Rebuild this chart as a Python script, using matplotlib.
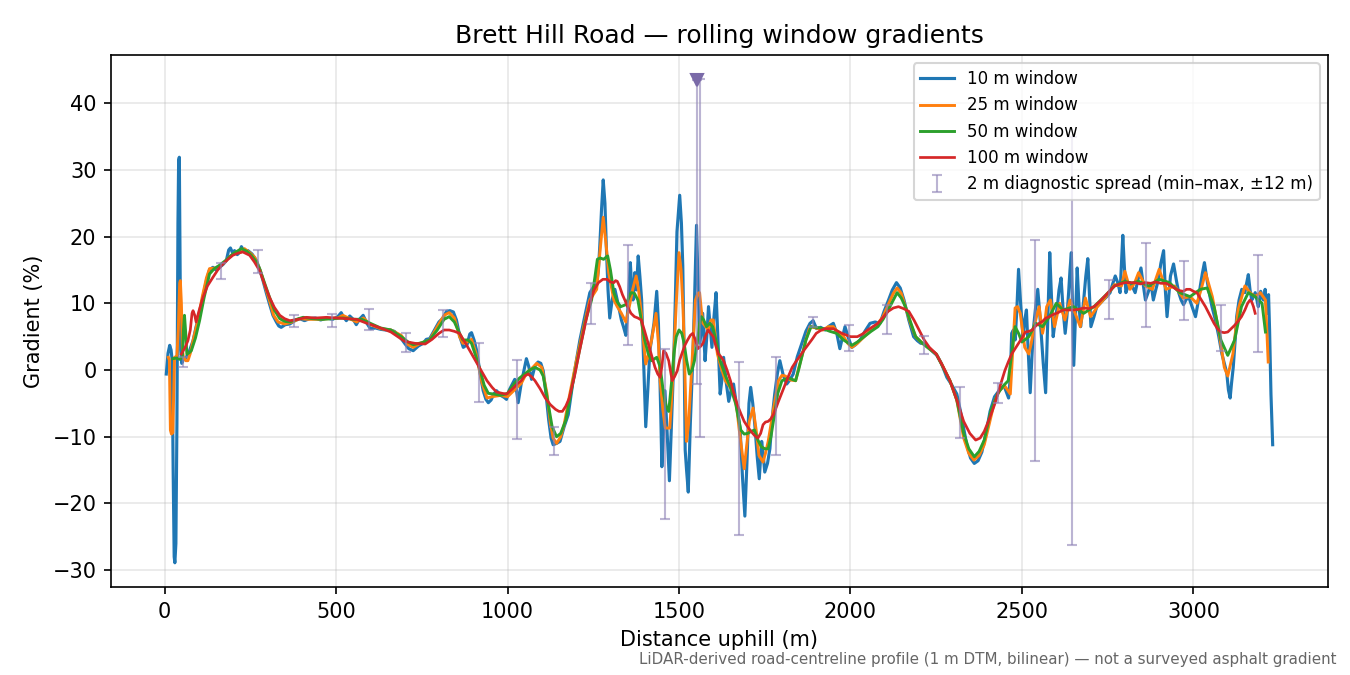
import numpy as np
import matplotlib
matplotlib.use("Agg")
import matplotlib.pyplot as plt

# 10 m window
x10 = [5, 10, 15, 19, 22, 25, 28, 30, 33, 36, 39, 41, 43, 45, 47, 50, 55, 63, 72, 83, 92, 102, 112, 122, 131, 141, 150, 160, 170, 180, 187, 192, 198, 204, 212, 218, 224, 232, 243, 255, 268, 278, 287, 297, 306, 316, 326, 333, 340, 352, 365, 380, 394, 408, 423, 440, 455, 472, 490, 505, 515, 521, 530, 540, 550, 559, 568, 579, 590, 600, 615, 630, 645, 657, 670, 686, 700, 712, 725, 740, 754, 763, 773, 785, 800, 812, 822, 832, 842, 851, 861, 871, 882, 890, 895, 903, 910, 920, 929, 937, 944, 952, 960, 968, 980, 990, 997, 1005, 1015, 1021, 1026, 1031, 1040, 1050, 1055, 1062, 1070, 1080, 1089, 1097, 1104, 1112, 1120, 1127, 1133, 1143, 1153, 1165, 1177, 1190, 1200, 1211, 1225, 1240, 1250, 1259, 1265, 1269, 1274, 1279, 1284, 1288, 1293, 1298, 1305, 1313, 1322, 1332, 1338, 1345, 1352, 1358, 1362, 1366, 1371, 1376, 1381, 1386, 1391, 1397, 1403, 1409, 1415, 1421, 1427, 1435, 1440, 1443, 1447, 1450, 1455, 1459, 1465, 1472, 1478, 1484, 1489, 1494, 1502, 1507, 1511, 1515, 1518, 1522, 1527, 1533, 1540, 1545, 1551, 1556, 1561, 1569, 1576, 1581, 1586, 1591, 1596, 1602, 1608, 1614, 1620, 1625, 1630, 1638, 1645, 1652, 1659, 1666, 1672, 1678, 1685, 1692, 1698, 1704, 1709, 1715, 1721, 1728, 1734, 1741, 1746, 1750, 1758, 1765, 1772, 1779, 1787, 1794, 1804, 1814, 1823, 1833, 1845, 1858, 1870, 1882, 1891, 1901, 1913, 1926, 1938, 1950, 1960, 1969, 1977, 1984, 1994, 2004, 2015, 2028, 2042, 2057, 2072, 2086, 2098, 2111, 2122, 2134, 2145, 2156, 2170, 2184, 2195, 2205, 2213, 2230, 2252, 2265, 2281, 2295, 2310, 2322, 2339, 2350, 2361, 2372, 2383, 2395, 2407, 2420, 2436, 2448, 2461, 2466, 2470, 2475, 2480, 2485, 2490, 2496, 2503, 2508, 2513, 2518, 2524, 2529, 2534, 2540, 2546, 2551, 2556, 2562, 2569, 2575, 2581, 2586, 2591, 2597, 2603, 2608, 2614, 2620, 2626, 2631, 2636, 2640, 2644, 2648, 2651, 2656, 2661, 2666, 2671, 2676, 2680, 2686, 2692, 2697, 2701, 2710, 2718, 2728, 2737, 2747, 2757, 2765, 2772, 2780, 2786, 2790, 2794, 2798, 2803, 2809, 2815, 2822, 2830, 2838, 2847, 2853, 2860, 2867, 2874, 2879, 2883, 2890, 2898, 2905, 2913, 2918, 2923, 2928, 2933, 2942, 2950, 2957, 2964, 2971, 2978, 2986, 2996, 3006, 3013, 3020, 3026, 3032, 3038, 3044, 3054, 3064, 3074, 3083, 3090, 3097, 3102, 3107, 3111, 3116, 3121, 3126, 3133, 3141, 3150, 3155, 3160, 3165, 3170, 3175, 3180, 3185, 3189, 3193, 3196, 3200, 3204, 3207, 3209, 3212, 3214, 3217, 3219, 3222, 3226, 3231]
g10 = [-0.6, 2.5, 3.7, 3.0, 1.5, -15, -28.0, -28.9, -26, -8, 22, 31.4, 31.9, 18, 3, 1.0, 1.6, 1.9, 2.8, 4.4, 6.5, 8.4, 11.0, 13.4, 15.0, 15.4, 15.0, 15.4, 15.8, 16.4, 18.0, 18.3, 17.6, 17.9, 17.3, 17.6, 18.5, 17.8, 17.9, 17.4, 16.4, 15.0, 13.4, 11.5, 9.9, 8.2, 7.2, 6.6, 6.4, 6.8, 6.9, 7.4, 7.7, 7.4, 7.7, 7.8, 7.5, 7.8, 7.6, 8.0, 8.6, 8.0, 7.4, 8.1, 7.6, 6.8, 7.6, 8.2, 7.0, 6.2, 6.3, 6.1, 6.0, 6.0, 5.8, 5.0, 4.0, 3.2, 2.9, 3.6, 4.0, 4.6, 4.7, 5.8, 7.2, 7.8, 8.8, 8.9, 8.7, 7.5, 5.0, 3.4, 3.8, 5.4, 5.6, 4.4, 2.9, -0.5, -3.1, -4.4, -4.9, -4.5, -3.6, -3.1, -3.8, -4.1, -4.4, -3.0, -2.0, -1.4, -3.0, -4.9, -2.0, 0.5, 1.7, 0.5, -1.4, 0.6, 1.2, 1.0, -0.1, -3.5, -7.5, -10.2, -11.2, -11.0, -10.7, -8.5, -6.7, -2.0, 1.2, 4.5, 8.0, 11.6, 12.4, 12.6, 15, 18.6, 24, 28.5, 25, 18.6, 12, 7.8, 10.5, 12.1, 10.0, 7.5, 6.5, 5.2, 10, 16.1, 12.5, 10.5, 14.6, 12, 17.1, 14, 10.5, 1.0, -8.5, -3, 2.9, 5, 7.0, 11.8, 7, 1.4, -7, -14.5, -9, -3.1, -9, -16.6, -8, 0.4, 10, 20.7, 26.2, 22, 15.6, 2, -12.0, -15, -18.3, -8, 1.4, 10, 21.7, 12, 4.0, 8.5, 1.4, 5, 9.5, 6.5, 3.4, 8, 11.6, 4, -3.6, -1.5, 1.9, -2, -4.7, -3, -2.1, -4.7, -6.5, -8.7, -16, -21.9, -14, -5, -2.6, -5, -8.2, -13, -16.3, -10.7, -13, -15.3, -14, -11.8, -7, -3.6, -0.5, 1.4, -0.8, -2.1, -1.5, -0.6, 2.0, 4.0, 5.8, 7.0, 7.4, 6.2, 6.4, 6.0, 6.6, 7.0, 5.5, 3.2, 5.0, 6.5, 4.8, 3.4, 3.8, 4.5, 5.8, 7.0, 7.2, 7.0, 8.8, 10.5, 12.0, 13.1, 12.3, 10.5, 7.5, 5.0, 4.4, 4.0, 4.0, 3.2, 2.2, 1.0, -1.1, -2.2, -3.6, -6.5, -11.2, -13.2, -14.0, -13.6, -12.3, -9.5, -6.2, -4.0, -2.9, -2.4, -4.2, -1, 5.5, 6, 4.5, 9, 15.1, 10, 5.0, 7.5, 9.0, 3, -3.4, 2, 6.5, 9.5, 12.1, 9, 5.5, 1, -3.4, 7, 17.6, 11, 5.0, 7.5, 9.5, 12, 13.8, 9, 5.5, 8, 11.6, 15, 17.6, 8, 0.7, 8, 15.3, 10, 6.5, 8.5, 10.5, 14, 16.7, 11, 6.5, 8, 9.5, 10, 10.5, 11, 11.6, 13, 14.1, 13, 11.6, 16, 20.2, 16, 11.6, 12.5, 13.1, 12.5, 11.6, 13.5, 15.3, 13, 10.5, 11.5, 12.6, 12, 10.5, 12, 13.6, 16, 17.9, 12, 8.0, 11, 14.1, 15.9, 13.5, 11.6, 10.5, 9.8, 10.5, 11.0, 9.5, 8.0, 10, 12.6, 14.5, 16.1, 14, 12.1, 9.5, 7.5, 5, 2.4, 1.0, -0.4, -3, -4.2, -2, 0.4, 4, 8.0, 10.5, 12.1, 11.6, 13, 14.3, 12, 10.5, 11, 11.6, 10.5, 9.5, 10.5, 11.8, 11, 10.5, 11, 12.1, 10, 8.5, 10, 11.3, 6, -3.6, -11.2]

# 25 m window
x25 = [11, 14, 17, 20, 24, 27, 29, 33, 36, 40, 44, 46, 49, 52, 55, 62, 68, 75, 83, 95, 110, 122, 131, 150, 170, 190, 209, 220, 233, 248, 263, 280, 294, 306, 318, 331, 350, 372, 394, 420, 450, 480, 505, 520, 540, 560, 580, 600, 630, 660, 690, 710, 725, 745, 773, 795, 815, 830, 845, 860, 870, 882, 895, 908, 925, 940, 955, 980, 1000, 1020, 1040, 1055, 1070, 1085, 1100, 1115, 1125, 1133, 1143, 1155, 1165, 1180, 1200, 1220, 1240, 1260, 1270, 1279, 1287, 1295, 1310, 1320, 1332, 1345, 1355, 1365, 1375, 1382, 1390, 1397, 1403, 1412, 1420, 1433, 1440, 1445, 1453, 1460, 1473, 1479, 1484, 1492, 1500, 1506, 1512, 1517, 1522, 1528, 1535, 1542, 1548, 1555, 1560, 1565, 1570, 1578, 1585, 1593, 1600, 1606, 1612, 1622, 1635, 1648, 1660, 1668, 1675, 1683, 1690, 1698, 1705, 1716, 1725, 1733, 1745, 1752, 1760, 1775, 1790, 1800, 1810, 1825, 1840, 1850, 1860, 1870, 1882, 1900, 1920, 1935, 1950, 1965, 1980, 1992, 2004, 2020, 2040, 2060, 2080, 2095, 2110, 2125, 2136, 2148, 2160, 2175, 2190, 2210, 2230, 2250, 2270, 2290, 2310, 2330, 2345, 2360, 2375, 2390, 2405, 2420, 2435, 2450, 2466, 2473, 2480, 2487, 2495, 2508, 2520, 2527, 2535, 2550, 2560, 2566, 2572, 2583, 2595, 2610, 2625, 2640, 2655, 2670, 2685, 2700, 2720, 2745, 2770, 2790, 2800, 2815, 2828, 2840, 2860, 2880, 2900, 2920, 2945, 2970, 2990, 3010, 3022, 3035, 3055, 3075, 3090, 3100, 3115, 3130, 3150, 3165, 3180, 3195, 3210, 3218]
g25 = [1.9, 1.5, -9.0, -9.6, -9.4, -3, 1.9, 2.0, 2.2, 6, 13.0, 13.4, 10, 3, 1.9, 1.4, 1.4, 2.5, 4.4, 7.0, 11.0, 13.8, 15.2, 15.3, 15.9, 17.0, 17.7, 17.6, 18.2, 17.6, 16.9, 14.8, 12.4, 10.4, 8.2, 7.2, 6.9, 7.2, 7.7, 7.6, 7.6, 7.7, 7.8, 8.2, 7.7, 7.2, 7.8, 6.8, 6.2, 6.0, 5.2, 3.8, 3.4, 4.0, 4.5, 6.5, 8.2, 8.6, 7.8, 5.0, 4.0, 4.2, 4.6, 2.5, -1.8, -4.2, -4.0, -3.8, -4.0, -3.0, -2.0, -0.5, 0.2, 1.0, 0.4, -3.5, -8.0, -10.2, -11.0, -10.0, -8.2, -4.0, 1.2, 6.0, 10.5, 12.1, 18, 22.9, 19, 14.6, 10.5, 9.5, 8.5, 7.2, 9.5, 12.1, 14.1, 12, 8.5, 4, 0.9, 2.5, 4.5, 8.5, 4, -1.6, -6, -8.7, -8.7, -4, 1.4, 10, 17.6, 15, 9.0, 0, -10.7, -8, -1.6, 5, 10.5, 11.5, 11.6, 9, 7.0, 6.5, 6.0, 7.5, 7.5, 5, 2.4, 0.5, -1.6, -2.5, -3.6, -5.5, -8.7, -12, -14.8, -11, -7.7, -5.7, -9, -12.8, -13.8, -12.5, -10.7, -6, -1.6, -0.8, -0.9, -1.5, -1.6, 0.5, 2.4, 4.5, 6.5, 6.3, 6.0, 6.5, 6.5, 5.5, 5.0, 4.0, 3.4, 4.0, 5.0, 6.0, 7.0, 8.0, 9.8, 11.5, 12.3, 11.5, 9.5, 7.0, 5.0, 4.0, 3.2, 2.4, 0.5, -1.6, -4.5, -10.2, -12.5, -13.5, -12.8, -11.2, -8, -4.7, -3.0, -2.4, -3.6, 3, 9.3, 9.5, 8.5, 3.4, 2.4, 4, 6.5, 9.5, 5.5, 7, 9.5, 10.5, 6.5, 10.0, 7.5, 10.5, 8.5, 6.5, 10.8, 8.0, 9.5, 11.0, 12.8, 12.6, 14.8, 12.1, 13, 14.6, 12.6, 12.1, 15.1, 12.1, 12.6, 10.8, 11.0, 10.0, 12, 14.6, 11.0, 5.5, 0.4, -0.9, 2.4, 9.0, 12.6, 11.6, 11.0, 11.6, 10.5, 1.2]

# 50 m window
x50 = [24, 35, 45, 52, 55, 58, 61, 65, 72, 78, 90, 102, 115, 131, 145, 160, 180, 199, 224, 240, 253, 265, 277, 292, 306, 320, 336, 350, 365, 385, 404, 430, 460, 490, 520, 550, 575, 600, 630, 660, 690, 710, 725, 750, 773, 795, 815, 830, 845, 860, 870, 885, 895, 908, 920, 932, 944, 960, 980, 1000, 1020, 1035, 1050, 1065, 1080, 1095, 1104, 1115, 1130, 1143, 1155, 1170, 1190, 1210, 1228, 1245, 1255, 1262, 1270, 1280, 1292, 1300, 1310, 1320, 1330, 1345, 1360, 1370, 1380, 1390, 1400, 1410, 1420, 1435, 1445, 1455, 1463, 1470, 1478, 1485, 1492, 1500, 1508, 1515, 1522, 1530, 1538, 1545, 1553, 1560, 1565, 1572, 1580, 1590, 1598, 1610, 1620, 1635, 1650, 1665, 1680, 1690, 1700, 1710, 1720, 1730, 1740, 1750, 1760, 1768, 1775, 1788, 1800, 1820, 1840, 1850, 1860, 1870, 1885, 1900, 1920, 1940, 1960, 1980, 2004, 2020, 2040, 2060, 2080, 2095, 2110, 2125, 2136, 2148, 2160, 2175, 2190, 2210, 2250, 2290, 2310, 2330, 2345, 2361, 2375, 2390, 2410, 2430, 2445, 2460, 2470, 2480, 2490, 2500, 2520, 2540, 2560, 2580, 2600, 2620, 2650, 2680, 2710, 2740, 2770, 2800, 2820, 2840, 2870, 2900, 2930, 2960, 2990, 3020, 3040, 3060, 3080, 3100, 3120, 3140, 3160, 3180, 3200, 3210]
g50 = [1.7, 1.8, 1.6, 2.0, 6, 8.2, 6, 2.4, 2.6, 2.9, 4.8, 7.4, 10.8, 14.4, 15.2, 15.7, 16.5, 17.4, 18.2, 17.8, 17.2, 16.4, 15.2, 13.0, 10.9, 9.0, 7.7, 7.3, 7.2, 7.6, 7.9, 7.7, 7.6, 7.7, 7.8, 7.6, 7.6, 7.0, 6.3, 6.0, 5.0, 4.2, 3.8, 4.1, 4.5, 6.0, 7.6, 8.0, 7.2, 5.5, 4.5, 4.5, 4.0, 2.0, 0.0, -2.3, -3.5, -3.6, -3.8, -3.5, -2.0, -1.2, -0.6, 0.0, 0.4, 0.0, -0.9, -4, -8.5, -10.0, -9.5, -7.5, -2, 3.0, 7.5, 10.5, 14, 16.6, 16.8, 16.6, 17.1, 15, 11.6, 10.2, 9.5, 9.8, 11.6, 11.5, 10.5, 7.5, 4.5, 2.5, 1.4, 1.9, 0.5, -3.6, -5.5, -6.2, -2, 2.4, 5, 6.0, 5.5, 4.0, 1.5, -0.6, 0, 1.4, 4, 7, 8.0, 7.5, 6.5, 7.0, 6.5, 4, 1.4, -0.8, -2.6, -5, -9.0, -9.6, -9.5, -9.2, -9.0, -10.5, -11.5, -11.8, -11.8, -10, -7.7, -3.5, -1.6, -1.2, -1.6, 0.3, 2.4, 4.5, 6.5, 6.4, 6.2, 5.8, 5.5, 4.5, 3.7, 4.2, 5.0, 5.8, 6.5, 7.6, 9.0, 10.5, 11.6, 10.8, 9.5, 7.2, 5.0, 4.0, 2.4, -1.6, -4.5, -9.5, -11.8, -13.0, -12.2, -10.5, -6, -3.5, -2.4, -1.6, 2.5, 6.5, 5.5, 4.2, 5.0, 7.0, 6.5, 8.0, 10.0, 9.0, 9.5, 8.5, 9.5, 11.0, 12.6, 13.3, 13.0, 13.3, 12.6, 13.6, 13.1, 11.6, 11.0, 12.1, 12.3, 9.5, 4.5, 2.2, 4.5, 9.5, 11.6, 11.0, 10.0, 5.7]

# 100 m window
x100 = [49, 60, 68, 75, 80, 83, 88, 92, 100, 112, 125, 141, 155, 170, 185, 199, 213, 228, 248, 262, 277, 292, 306, 320, 336, 350, 365, 390, 413, 440, 472, 500, 530, 560, 585, 608, 635, 660, 680, 700, 730, 760, 780, 800, 815, 830, 845, 860, 880, 900, 920, 940, 955, 968, 985, 997, 1015, 1030, 1040, 1050, 1060, 1070, 1080, 1095, 1110, 1125, 1140, 1150, 1160, 1170, 1180, 1195, 1210, 1225, 1240, 1252, 1265, 1278, 1290, 1300, 1310, 1315, 1320, 1327, 1335, 1342, 1350, 1360, 1370, 1380, 1390, 1400, 1410, 1420, 1430, 1438, 1445, 1450, 1455, 1462, 1470, 1480, 1487, 1495, 1502, 1510, 1518, 1525, 1533, 1540, 1548, 1555, 1562, 1570, 1578, 1585, 1592, 1600, 1608, 1615, 1622, 1630, 1640, 1650, 1660, 1670, 1680, 1690, 1700, 1710, 1720, 1730, 1738, 1745, 1752, 1760, 1768, 1775, 1782, 1790, 1800, 1810, 1820, 1830, 1840, 1850, 1862, 1875, 1888, 1900, 1912, 1925, 1950, 1975, 2000, 2020, 2035, 2050, 2065, 2080, 2095, 2110, 2125, 2140, 2155, 2170, 2185, 2200, 2215, 2230, 2250, 2270, 2290, 2310, 2330, 2348, 2365, 2378, 2390, 2405, 2420, 2435, 2450, 2460, 2470, 2480, 2490, 2500, 2510, 2520, 2530, 2540, 2550, 2560, 2570, 2580, 2590, 2605, 2620, 2635, 2650, 2665, 2680, 2695, 2710, 2725, 2740, 2755, 2770, 2785, 2800, 2815, 2830, 2845, 2860, 2875, 2890, 2905, 2920, 2935, 2950, 2960, 2970, 2980, 2990, 3000, 3010, 3022, 3035, 3048, 3060, 3070, 3080, 3090, 3100, 3110, 3120, 3130, 3140, 3150, 3158, 3165, 3170, 3175, 3180]
g100 = [2.4, 3.4, 4.4, 6.0, 8.5, 8.9, 8.2, 7.2, 8.8, 10.9, 12.6, 13.9, 15.0, 15.9, 16.6, 17.2, 17.5, 17.7, 17.2, 16.2, 14.9, 12.8, 10.9, 9.4, 8.2, 7.7, 7.4, 7.6, 7.9, 7.8, 7.9, 7.8, 7.7, 7.6, 7.1, 6.7, 6.2, 5.7, 5.0, 4.3, 4.0, 3.9, 4.6, 5.5, 6.0, 6.0, 5.8, 5.5, 3.8, 2.0, 0.2, -1.6, -2.6, -3.3, -3.5, -3.6, -2.8, -2.0, -1.6, -0.9, -0.6, -1.0, -1.6, -2.8, -4.2, -5.2, -5.9, -6.2, -6.2, -5.4, -4.2, -1.0, 2.9, 6.5, 10.0, 12.0, 13.1, 13.6, 13.6, 13.2, 13.1, 13.4, 13.3, 12.5, 11.3, 10.5, 9.5, 8.5, 8.0, 7.8, 7.5, 5.8, 4.0, 2.2, 0.4, -0.6, -1.1, 0.5, 2.9, 2.5, 1.4, -1.6, -1.0, -0.1, 1.5, 2.7, 3.8, 4.5, 5.2, 5.5, 4.5, 3.2, 3.5, 4.0, 5.2, 6.0, 5.5, 5.0, 3.5, 2.4, 2.0, 1.4, 0.0, -1.6, -3.5, -5.2, -6.5, -7.7, -8.5, -9.2, -9.8, -10.2, -9.5, -8.2, -7.8, -7.7, -7.3, -6.7, -5.8, -4.7, -3.4, -2.1, -0.8, 0.4, 1.2, 1.9, 2.8, 3.7, 4.6, 5.5, 5.9, 6.2, 6.2, 5.5, 5.0, 5.0, 5.4, 6.0, 6.5, 7.0, 7.9, 8.8, 9.3, 9.5, 9.2, 8.8, 7.5, 6.0, 4.5, 3.4, 2.4, 0.5, -1.6, -4.5, -7.7, -9.5, -10.5, -10.2, -9.2, -7.3, -5.2, -2.6, -0.1, 1.2, 2.4, 3.2, 4.0, 4.8, 5.7, 5.8, 6.0, 6.6, 7.0, 7.3, 7.8, 8.0, 8.3, 8.6, 9.0, 9.0, 9.0, 9.1, 9.3, 9.2, 9.5, 10.2, 11.0, 11.8, 12.6, 12.9, 13.1, 13.1, 13.1, 12.9, 13.1, 13.0, 13.2, 13.0, 13.0, 12.6, 12.1, 11.9, 11.8, 12.1, 12.1, 11.8, 11.6, 10.6, 9.5, 8.2, 7.0, 6.2, 5.7, 5.6, 5.7, 6.2, 6.7, 7.3, 8.0, 9.0, 10.0, 10.5, 10.2, 9.5, 8.5]

# 2 m diagnostic spread (min / max within +-12 m)
spread_x = [55, 164, 272, 377, 487, 596, 704, 812, 918, 1028, 1136, 1244, 1352, 1458, 1561, 1674, 1782, 1890, 1995, 2106, 2214, 2320, 2430, 2538, 2647, 2755, 2863, 2971, 3079, 3187]
spread_lo = [0.5, 13.6, 14.6, 6.5, 6.5, 6.0, 2.7, 4.9, -4.8, -10.3, -12.8, 6.9, 3.8, -22.4, -10.1, -24.7, -12.8, 6.4, 2.8, 5.4, 2.4, -10.2, -4.9, -13.6, -26.2, 7.6, 6.4, 7.5, 2.8, 2.7]
spread_hi = [1.9, 16.0, 18.0, 8.3, 8.4, 9.1, 5.6, 9.0, 4.1, 1.5, -8.6, 13.0, 18.7, 3.1, 43.6, 1.2, 2.0, 7.9, 6.7, 9.7, 5.1, -2.5, -1.9, 19.5, 35.0, 13.5, 19.0, 16.3, 9.7, 17.2]
# clipped spike marker
clip_x = [1551]
clip_lo = [-2.1]
clip_hi = [43.5]

spread_col = '#8e82b6'

fig, ax = plt.subplots(figsize=(9, 4.5), dpi=150)
fig.subplots_adjust(left=0.0822, right=0.9837, top=0.9185, bottom=0.1304)

ax.plot(x10, g10, color='tab:blue', lw=1.5, label='10 m window')
ax.plot(x25, g25, color='tab:orange', lw=1.4, label='25 m window')
ax.plot(x50, g50, color='tab:green', lw=1.4, label='50 m window')
ax.plot(x100, g100, color='tab:red', lw=1.3, label='100 m window')

lo = np.array(spread_lo)
hi = np.array(spread_hi)
mid = (lo + hi) / 2
ax.errorbar(spread_x, mid, yerr=[mid - lo, hi - mid], fmt='none',
            ecolor=spread_col, elinewidth=1.0, capsize=2.5, alpha=0.6,
            label='2 m diagnostic spread (min–max, ±12 m)')
clo = np.array(clip_lo)
chi = np.array(clip_hi)
cmid = (clo + chi) / 2
ax.errorbar(clip_x, cmid, yerr=[cmid - clo, chi - cmid], fmt='none',
            ecolor=spread_col, elinewidth=1.0, capsize=2.5, alpha=0.6)
ax.plot(clip_x, clip_hi, marker='v', color='#7a6aa8', ms=6, ls='none')

ax.set_title('Brett Hill Road — rolling window gradients', fontsize=12)
ax.set_xlabel('Distance uphill (m)', fontsize=10)
ax.set_ylabel('Gradient (%)', fontsize=10)
ax.tick_params(labelsize=10)
ax.grid(True, alpha=0.3)
ax.legend(loc='upper right', fontsize=8)

fig.text(0.99, 0.012, 'LiDAR-derived road-centreline profile (1 m DTM, bilinear) — not a surveyed asphalt gradient',
         ha='right', va='bottom', fontsize=7.25, color='#666666')

fig.savefig('out.png', dpi=150)
